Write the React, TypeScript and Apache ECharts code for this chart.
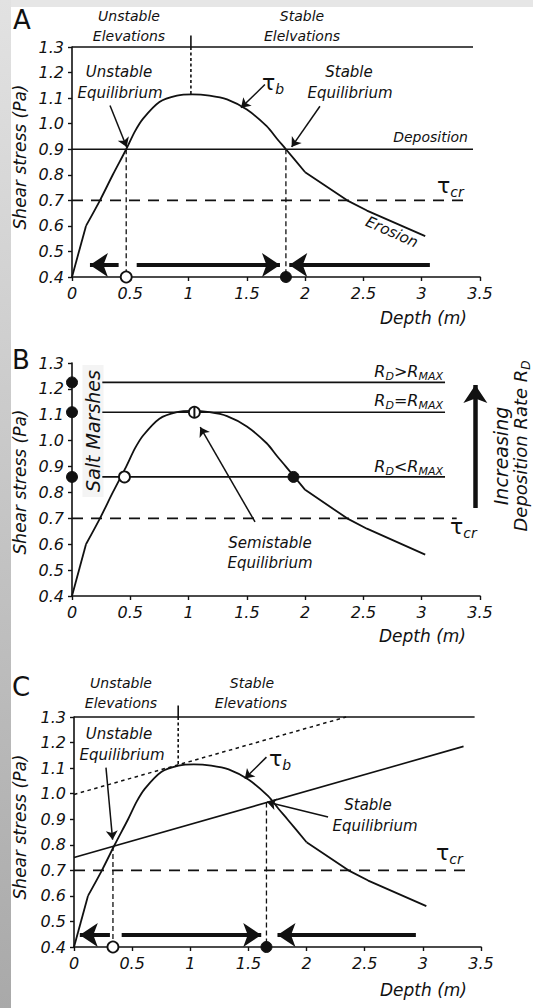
import React, { useEffect, useRef } from "react";
import * as echarts from "echarts";

// ---------- data ----------
const xTickValues = [0, 0.5, 1, 1.5, 2, 2.5, 3, 3.5];
const yTickLabels = ["0.4", "0.5", "0.6", "0.7", "0.8", "0.9", "1.0", "1.1", "1.2", "1.3"];

// bed shear stress curve tau_b (depth m, stress Pa)
const tauB: [number, number][] = [
  [0, 0.4], [0.12, 0.6], [0.24, 0.7], [0.35, 0.8], [0.465, 0.9], [0.54, 0.97],
  [0.61, 1.02], [0.75, 1.085], [0.9, 1.11], [1.03, 1.115], [1.18, 1.11],
  [1.33, 1.095], [1.5, 1.055], [1.67, 0.99], [1.76, 0.94], [1.835, 0.9],
  [2.0, 0.81], [2.36, 0.7], [2.53, 0.66], [3.03, 0.56],
];

const topLevel = 1.3;
const criticalLevel = 0.7;
const criticalEnd = 3.38;
const flowLevel = 0.447;

// panel A
const aDepositionLevel = 0.9;
const aLineEnd = 3.44;
const aUnstableX = 0.465;
const aStableX = 1.835;
const aDivider = { x: 1.02, top: 1.345, bottom: 1.115 };
const aFlowArrows: [number, number][][] = [
  [[0.4, flowLevel], [0.154, flowLevel]],
  [[0.555, flowLevel], [1.784, flowLevel]],
  [[3.07, flowLevel], [1.864, flowLevel]],
];
const aPointers: [number, number][][] = [
  [[0.326, 1.071], [0.469, 0.909]],
  [[1.655, 1.153], [1.45, 1.062]],
  [[2.127, 1.068], [1.884, 0.909]],
];

// panel B
const bLevels = [1.225, 1.11, 0.86];
const bLineStart = 0.26;
const bLineEnd = 3.2;
const bCriticalEnd = 3.3;
const bOpen: [number, number] = [0.45, 0.86];
const bSemi: [number, number] = [1.05, 1.11];
const bFilled: [number, number] = [1.9, 0.86];
const bRateArrow: [number, number][] = [[3.46, 0.74], [3.46, 1.215]];
const bPointer: [number, number][] = [[1.57, 0.686], [1.1, 1.052]];

// panel C
const cDottedLine: [number, number][] = [[0, 0.997], [2.34, 1.3]];
const cDepositionLine: [number, number][] = [[0, 0.75], [3.35, 1.185]];
const cLineEnd = 3.445;
const cUnstable: [number, number] = [0.335, 0.795];
const cStable: [number, number] = [1.655, 0.965];
const cDivider = { x: 0.896, top: 1.345, bottom: 1.113 };
const cFlowArrows: [number, number][][] = [
  [[0.309, flowLevel], [0.05, flowLevel]],
  [[0.41, flowLevel], [1.61, flowLevel]],
  [[2.94, flowLevel], [1.75, flowLevel]],
];
const cPointers: [number, number][][] = [
  [[0.275, 1.102], [0.332, 0.82]],
  [[1.655, 1.143], [1.469, 1.059]],
  [[2.185, 0.909], [1.66, 0.967]],
];

// ---------- styling ----------
const INK = "#111";
const FONT = "'DejaVu Sans', 'Liberation Sans', sans-serif";

const grids = [
  { left: 72, top: 47, width: 408, height: 230 },
  { left: 72, top: 363, width: 408, height: 233 },
  { left: 74, top: 717, width: 407, height: 230 },
];

let measureCtx: CanvasRenderingContext2D | null = null;
function measure(text: string, size: number, italic = true) {
  if (!measureCtx) measureCtx = document.createElement("canvas").getContext("2d");
  measureCtx!.font = `${italic ? "italic " : ""}${size}px ${FONT}`;
  return measureCtx!.measureText(text).width;
}

function txt(x: number, y: number, text: string, size = 15, align = "center", extra: any = {}) {
  return {
    type: "text",
    x,
    y,
    rotation: extra.rotation || 0,
    style: {
      text,
      fill: INK,
      fontSize: size,
      fontFamily: FONT,
      fontStyle: extra.italic === false ? "normal" : "italic",
      align,
      verticalAlign: "middle",
      backgroundColor: extra.bg,
      padding: extra.padding,
    },
  };
}

// parts: [text, isSub, italic]
function subTxt(
  x: number, y: number, parts: [string, boolean, boolean?][], mainSize: number, subSize: number,
  align = "left", rotation = 0
) {
  const widths = parts.map(([t, s, it]) => measure(t, s ? subSize : mainSize, it !== false));
  const W = widths.reduce((a, b) => a + b, 0);
  let cx = align === "right" ? -W : align === "center" ? -W / 2 : 0;
  const children: any[] = [];
  parts.forEach(([t, s, it], i) => {
    children.push({
      type: "text",
      x: cx,
      y: s ? mainSize * 0.32 : 0,
      style: {
        text: t,
        fill: INK,
        fontSize: s ? subSize : mainSize,
        fontFamily: FONT,
        fontStyle: it === false ? "normal" : "italic",
        align: "left",
        verticalAlign: "middle",
      },
    });
    cx += widths[i];
  });
  return { type: "group", x, y, rotation, children };
}

function seg(gi: number, data: any[], opt: any = {}) {
  return {
    type: "line",
    xAxisIndex: gi,
    yAxisIndex: gi,
    data,
    symbol: "none",
    clip: false,
    silent: true,
    smooth: opt.smooth || false,
    lineStyle: { color: INK, width: opt.width || 1.6, type: opt.type || "solid" },
    z: opt.z || 3,
  };
}

function arrows(gi: number, list: [number, number][][], width: number, size: number) {
  return {
    type: "lines",
    coordinateSystem: "cartesian2d",
    xAxisIndex: gi,
    yAxisIndex: gi,
    clip: false,
    silent: true,
    symbol: ["none", "arrow"],
    symbolSize: size,
    lineStyle: { color: INK, width, opacity: 1, curveness: 0 },
    data: list.map((c) => ({ coords: c })),
    z: 4,
  };
}

function points(gi: number, data: [number, number][], filled: boolean, size = 11) {
  return {
    type: "scatter",
    xAxisIndex: gi,
    yAxisIndex: gi,
    data,
    clip: false,
    silent: true,
    symbol: "circle",
    symbolSize: size,
    itemStyle: filled
      ? { color: INK, borderColor: INK, borderWidth: 1, opacity: 1 }
      : { color: "#fff", borderColor: INK, borderWidth: 1.8, opacity: 1 },
    z: 6,
  };
}

function buildOption() {
  const xAxes = grids.map((_, i) => ({
    gridIndex: i,
    type: "value",
    min: xTickValues[0],
    max: xTickValues[xTickValues.length - 1],
    interval: 0.5,
    axisLine: { show: true, onZero: false, lineStyle: { color: INK, width: 1.6 } },
    axisTick: { show: true, length: 4, lineStyle: { color: INK, width: 1.4 } },
    axisLabel: { color: INK, fontFamily: FONT, fontStyle: "italic", fontSize: 16, margin: 8 },
    splitLine: { show: false },
  }));
  const yAxes = grids.map((_, i) => ({
    gridIndex: i,
    type: "value",
    min: 0.4,
    max: 1.3,
    interval: 0.1,
    axisLine: { show: true, onZero: false, lineStyle: { color: INK, width: 1.6 } },
    axisTick: { show: true, length: 4, lineStyle: { color: INK, width: 1.4 } },
    axisLabel: {
      color: INK, fontFamily: FONT, fontStyle: "italic", fontSize: 16, margin: 8,
      formatter: (v: number) => yTickLabels[Math.round((v - 0.4) * 10)] ?? "",
    },
    splitLine: { show: false },
  }));

  const tauLeft = tauB.slice(0, 2);
  const tauMid = tauB.slice(1, 17);
  const tauRight = tauB.slice(16);
  const curve = (gi: number) => [
    seg(gi, tauLeft, { width: 1.8 }),
    seg(gi, tauMid, { width: 1.8, smooth: 0.3 }),
    seg(gi, tauRight, { width: 1.8 }),
  ];
  const dash = [11, 8];
  const vdash = [5, 3];

  const series: any[] = [
    // ---- A ----
    ...curve(0),
    seg(0, [[0, topLevel], [aLineEnd, topLevel]]),
    seg(0, [[0, aDepositionLevel], [aLineEnd, aDepositionLevel]]),
    seg(0, [[0, criticalLevel], [criticalEnd, criticalLevel]], { type: dash }),
    seg(0, [[aDivider.x, aDivider.top], [aDivider.x, topLevel]]),
    seg(0, [[aDivider.x, topLevel], [aDivider.x, aDivider.bottom]], { type: [3, 2.5] }),
    seg(0, [[aUnstableX, aDepositionLevel], [aUnstableX, 0.4]], { type: vdash, width: 1.3 }),
    seg(0, [[aStableX, aDepositionLevel], [aStableX, 0.4]], { type: vdash, width: 1.3 }),
    arrows(0, aFlowArrows, 4, 18),
    arrows(0, aPointers, 1.5, 9),
    points(0, [[aUnstableX, 0.4]], false),
    points(0, [[aStableX, 0.4]], true),
    // ---- B ----
    ...curve(1),
    ...bLevels.map((lv) => seg(1, [[bLineStart, lv], [bLineEnd, lv]])),
    seg(1, [[0, criticalLevel], [bCriticalEnd, criticalLevel]], { type: dash }),
    arrows(1, [bRateArrow], 4.5, 18),
    arrows(1, [bPointer], 1.5, 9),
    points(1, bLevels.map((lv) => [0, lv] as [number, number]), true),
    points(1, [bOpen], false),
    points(1, [bSemi], false),
    seg(1, [[bSemi[0], bSemi[1] - 0.02], [bSemi[0], bSemi[1] + 0.02]], { z: 7, width: 2 }),
    points(1, [bFilled], true),
    // ---- C ----
    ...curve(2),
    seg(2, [[0, topLevel], [cLineEnd, topLevel]]),
    seg(2, cDottedLine, { type: [3.5, 3.5], width: 1.5 }),
    seg(2, cDepositionLine),
    seg(2, [[0, criticalLevel], [criticalEnd, criticalLevel]], { type: dash }),
    seg(2, [[cDivider.x, cDivider.top], [cDivider.x, topLevel]]),
    seg(2, [[cDivider.x, topLevel], [cDivider.x, cDivider.bottom]], { type: [3, 2.5] }),
    seg(2, [cUnstable, [cUnstable[0], 0.4]], { type: vdash, width: 1.3 }),
    seg(2, [cStable, [cStable[0], 0.4]], { type: vdash, width: 1.3 }),
    arrows(2, cFlowArrows, 4, 18),
    arrows(2, cPointers, 1.5, 9),
    points(2, [[cUnstable[0], 0.4]], false),
    points(2, [[cStable[0], 0.4]], true),
  ];

  const yName = (cy: number) => txt(20, cy, "Shear stress (Pa)", 17, "center", { rotation: Math.PI / 2 });
  const graphic: any[] = [
    // page frame strips
    {
      type: "rect", shape: { x: 0, y: 0, width: 11, height: 1008 }, z: -10,
      style: { fill: new echarts.graphic.LinearGradient(0, 0, 0, 1, [
        { offset: 0, color: "#e2e2e2" }, { offset: 1, color: "#a9a9a9" }]) },
    },
    { type: "rect", shape: { x: 11, y: 0, width: 522, height: 7 }, z: -10, style: { fill: "#e6e6e6" } },

    // ---- A ----
    txt(22, 20, "A", 26, "center", { italic: false }),
    txt(129, 16, "Unstable", 14), txt(129, 36, "Elevations", 14),
    txt(302, 16, "Stable", 14), txt(302, 36, "Elelvations", 14),
    txt(119, 72, "Unstable", 15), txt(120, 93, "Equilibrium", 15),
    txt(349, 72, "Stable", 15), txt(350, 93, "Equilibrium", 15),
    subTxt(262, 82, [["τ", false, false], ["b", true]], 22, 14),
    txt(468, 137, "Deposition", 14, "right"),
    subTxt(437, 185, [["τ", false, false], ["cr", true]], 22, 14),
    txt(392, 232, "Erosion", 15, "center", { rotation: -0.42 }),
    txt(467, 318, "Depth (m)", 17, "right"),
    yName(157),

    // ---- B ----
    txt(21, 360, "B", 26, "center", { italic: false }),
    subTxt(443, 371, [["R", false], ["D", true], [">R", false], ["MAX", true]], 16, 11, "right"),
    subTxt(443, 400, [["R", false], ["D", true], ["=R", false], ["MAX", true]], 16, 11, "right"),
    subTxt(443, 466, [["R", false], ["D", true], ["<R", false], ["MAX", true]], 16, 11, "right"),
    txt(93, 431, "Salt Marshes", 19, "center", { rotation: Math.PI / 2, bg: "#f4f4f4", padding: [1, 5, 1, 5] }),
    txt(270, 543, "Semistable", 15), txt(270, 563, "Equilibrium", 15),
    subTxt(450, 526, [["τ", false, false], ["cr", true]], 22, 14),
    txt(501, 456, "Increasing", 19, "center", { rotation: Math.PI / 2 }),
    subTxt(520, 446, [["Deposition Rate R", false], ["D", true]], 18, 12, "center", Math.PI / 2),
    txt(466, 636, "Depth (m)", 17, "right"),
    yName(482),

    // ---- C ----
    txt(21, 687, "C", 26, "center", { italic: false }),
    txt(121, 683, "Unstable", 14), txt(121, 703, "Elevations", 14),
    txt(252, 683, "Stable", 14), txt(251, 703, "Elevations", 14),
    txt(119, 734, "Unstable", 15), txt(122, 755, "Equilibrium", 15),
    subTxt(269, 758, [["τ", false, false], ["b", true]], 22, 14),
    txt(368, 805, "Stable", 15), txt(375, 826, "Equilibrium", 15),
    subTxt(436, 852, [["τ", false, false], ["cr", true]], 22, 14),
    txt(467, 990, "Depth (m)", 17, "right"),
    yName(827),
  ];

  return {
    animation: false,
    backgroundColor: "#fff",
    grid: grids.map((g) => ({ ...g, containLabel: false })),
    xAxis: xAxes,
    yAxis: yAxes,
    series,
    graphic,
  };
}

export default function App() {
  const ref = useRef<HTMLDivElement>(null);
  useEffect(() => {
    if (!ref.current) return;
    const chart = echarts.init(ref.current, undefined, { renderer: "svg" });
    chart.setOption(buildOption() as any);
    return () => chart.dispose();
  }, []);
  return (
    <div
      ref={ref}
      style={{ position: "fixed", left: 0, top: 0, width: 533, height: 1008, background: "#fff" }}
    />
  );
}
